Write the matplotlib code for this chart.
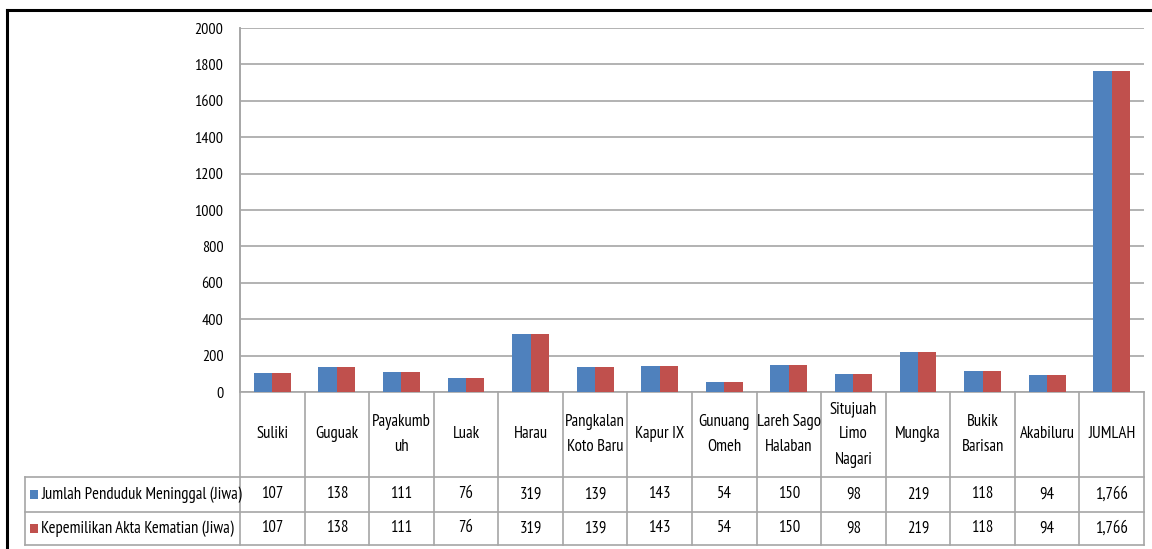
import matplotlib.pyplot as plt
import matplotlib.transforms as mtransforms
from matplotlib.lines import Line2D
from matplotlib.patches import Rectangle
import numpy as np

plt.rcParams['font.family'] = ['PT Sans Narrow', 'Carlito', 'DejaVu Sans']

# data
kecamatan = ['Suliki', 'Guguak', 'Payakumb\nuh', 'Luak', 'Harau', 'Pangkalan\nKoto Baru',
             'Kapur IX', 'Gunuang\nOmeh', 'Lareh Sago\nHalaban', 'Situjuah\nLimo\nNagari',
             'Mungka', 'Bukik\nBarisan', 'Akabiluru', 'JUMLAH']
meninggal = [107, 138, 111, 76, 319, 139, 143, 54, 150, 98, 219, 118, 94, 1766]
akta_kematian = [107, 138, 111, 76, 319, 139, 143, 54, 150, 98, 219, 118, 94, 1766]
series_names = ['Jumlah Penduduk Meninggal (Jiwa)', 'Kepemilikan Akta Kematian (Jiwa)']
colors = ['#4F81BD', '#C0504D']
y_ticks = list(range(0, 2001, 200))

W, H = 1152, 549
fig = plt.figure(figsize=(W / 100, H / 100), dpi=100)
grid_c = '#A6A6A6'

# plot area in pixel terms
x0, x1 = 240, 1144
y_top, y_zero = 28, 392
ax = fig.add_axes([x0 / W, 1 - y_zero / H, (x1 - x0) / W, (y_zero - y_top) / H])

n = len(kecamatan)
x = np.arange(n)
bw = 1 / 3.5
ax.bar(x - bw / 2, meninggal, bw, color=colors[0], zorder=3)
ax.bar(x + bw / 2, akta_kematian, bw, color=colors[1], zorder=3)

fs = 12
ax.set_xlim(-0.5, n - 0.5)
ax.set_ylim(0, 2000)
ax.set_yticks(y_ticks)
ax.set_yticklabels([str(t) for t in y_ticks], fontsize=11.5)
ax.tick_params(axis='y', length=0, pad=12)
ax.set_xticks([])
ax.grid(axis='y', color=grid_c, linewidth=1.2, zorder=0)
for s in ['top', 'right']:
    ax.spines[s].set_visible(False)
for s in ['left', 'bottom']:
    ax.spines[s].set_color(grid_c)
    ax.spines[s].set_linewidth(1.2)

# data table below the plot: x in data units, y in pixels from top
trans = mtransforms.blended_transform_factory(ax.transData, fig.transFigure)
figt = fig.transFigure


def fy(py):
    return 1 - py / H


row_hdr_bot, row1_bot, row2_bot = 477, 512, 545
table_left = 25

# vertical separators
for i in range(n + 1):
    xb = i - 0.5
    top = y_top if i == 0 else y_zero
    fig.add_artist(Line2D([xb, xb], [fy(top), fy(row2_bot)], transform=trans,
                          color=grid_c, linewidth=1.2))
fig.add_artist(Line2D([table_left / W] * 2, [fy(row_hdr_bot), fy(row2_bot)],
                      transform=figt, color=grid_c, linewidth=1.2))
for yb in [row_hdr_bot, row1_bot, row2_bot]:
    fig.add_artist(Line2D([table_left / W, x1 / W], [fy(yb), fy(yb)],
                          transform=figt, color=grid_c, linewidth=1.2))

# header labels
for i, lab in enumerate(kecamatan):
    fig.text(i, fy((y_zero + row_hdr_bot) / 2), lab, transform=trans,
             ha='center', va='center', fontsize=fs, linespacing=1.8)

# value rows with legend keys
for r, (vals, name, c) in enumerate(zip([meninggal, akta_kematian], series_names, colors)):
    yc = fy([(row_hdr_bot + row1_bot) / 2, (row1_bot + row2_bot) / 2][r])
    fig.add_artist(Rectangle((30 / W, yc - 4.5 / H), 8 / W, 9 / H, transform=figt,
                             facecolor=c, edgecolor='none'))
    fig.text(41 / W, yc, name, transform=figt, ha='left', va='center', fontsize=fs)
    for i, v in enumerate(vals):
        fig.text(i, yc, f'{v:,}', transform=trans, ha='center', va='center', fontsize=fs)

# outer frame
fig.add_artist(Line2D([7 / W, 1], [fy(10), fy(10)], transform=figt, color='black', linewidth=2.2))
fig.add_artist(Line2D([7 / W, 7 / W], [fy(10), 0], transform=figt, color='black', linewidth=2.2))

fig.savefig('out.png', dpi=100)
